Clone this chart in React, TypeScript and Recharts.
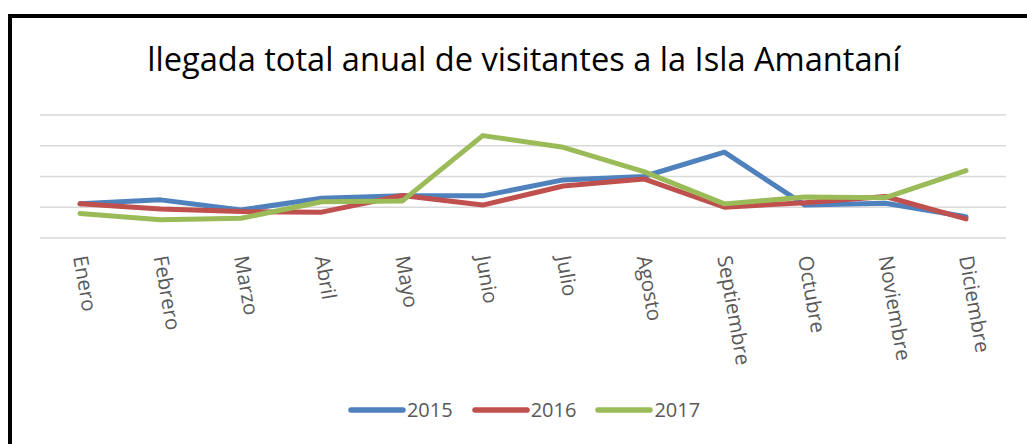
import React from 'react';
import { LineChart, Line, XAxis, YAxis, CartesianGrid, Legend } from 'recharts';

const months = ['Enero', 'Febrero', 'Marzo', 'Abril', 'Mayo', 'Junio', 'Julio', 'Agosto', 'Septiembre', 'Octubre', 'Noviembre', 'Diciembre'];
const s2015 = [1.11, 1.24, 0.91, 1.29, 1.37, 1.37, 1.89, 2.0, 2.79, 1.07, 1.13, 0.69];
const s2016 = [1.11, 0.94, 0.86, 0.84, 1.38, 1.07, 1.69, 1.92, 1.0, 1.15, 1.35, 0.62];
const s2017 = [0.8, 0.59, 0.64, 1.18, 1.2, 3.33, 2.95, 2.16, 1.11, 1.33, 1.31, 2.19];
const yTicks = [0, 1, 2, 3, 4];
const seriesNames = ['2015', '2016', '2017'];
const seriesColors = ['#4F81BD', '#C0504D', '#9BBB59'];

const data = months.map((m, i) => ({ month: m, '2015': s2015[i], '2016': s2016[i], '2017': s2017[i] }));

const FONT = '"Open Sans", sans-serif';

const Tick = (props: any) => {
  const { x, y, payload } = props;
  return (
    <g transform={`translate(${x - 7},${y + 19}) rotate(80)`}>
      <text x={0} y={0} textAnchor="start" fill="#595959" fontSize={20.5} fontFamily={FONT}>
        {payload.value}
      </text>
    </g>
  );
};

const LegendContent = (props: any) => {
  const { payload } = props;
  return (
    <div style={{ display: 'flex', justifyContent: 'center', alignItems: 'center', fontFamily: FONT, fontSize: 20, color: '#595959' }}>
      {payload.map((p: any, i: number) => (
        <div key={i} style={{ display: 'flex', alignItems: 'center', marginRight: i < payload.length - 1 ? 19 : 0 }}>
          <svg width={58} height={10} style={{ marginRight: 1 }}>
            <line x1={3} y1={5} x2={55} y2={5} stroke={p.color} strokeWidth={5.5} strokeLinecap="round" />
          </svg>
          <span>{p.value}</span>
        </div>
      ))}
    </div>
  );
};

export default function App() {
  return (
    <div style={{ position: 'absolute', left: 0, top: 0, width: 1027, height: 444, background: '#fff', overflow: 'hidden' }}>
      <div style={{ position: 'absolute', left: 8, top: 14, width: 1019, height: 440, borderLeft: '4px solid #000', borderTop: '4px solid #000', boxSizing: 'border-box' }} />
      <div style={{ position: 'absolute', left: 0, top: 37, width: 1048, textAlign: 'center', fontFamily: FONT, fontSize: 32.6, lineHeight: '44px', color: '#000', whiteSpace: 'nowrap' }}>
        llegada total anual de visitantes a la Isla Amantaní
      </div>
      <div style={{ position: 'absolute', left: 0, top: 0 }}>
        <LineChart width={1027} height={444} data={data} margin={{ top: 115, right: 21, left: 40, bottom: 76 }}>
          <CartesianGrid horizontal vertical={false} stroke="#D9D9D9" strokeWidth={1.5} />
          <XAxis dataKey="month" axisLine={false} tickLine={false} tickSize={0} tickMargin={0} interval={0} height={130} padding={{ left: 40, right: 40 }} tick={<Tick />} />
          <YAxis hide domain={[0, 4]} ticks={yTicks} />
          {seriesNames.map((n, i) => (
            <Line key={n} type="linear" dataKey={n} name={n} stroke={seriesColors[i]} strokeWidth={5} dot={false} activeDot={false} strokeLinejoin="round" strokeLinecap="round" isAnimationActive={false} />
          ))}
          <Legend layout="horizontal" verticalAlign="middle" align="center" wrapperStyle={{ top: 396, left: 0, width: 1048 }} content={<LegendContent />} />
        </LineChart>
      </div>
    </div>
  );
}
